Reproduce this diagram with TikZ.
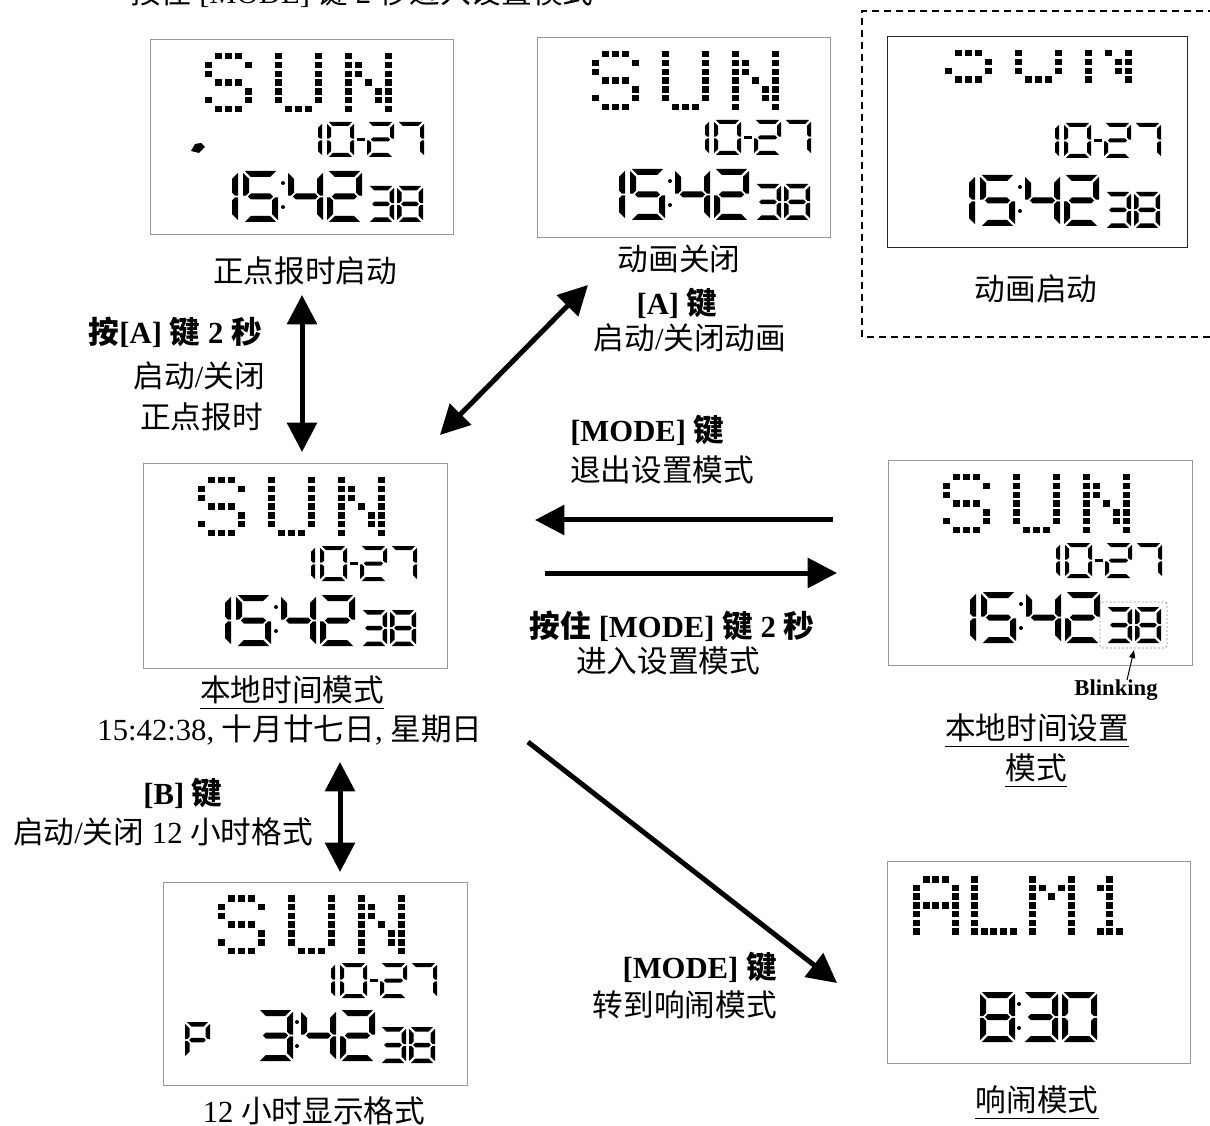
\documentclass[tikz,border=0pt]{standalone}
\usepackage{fontspec}
\setmainfont{Liberation Serif}
\newfontfamily\cjk{Noto Sans CJK SC}
\usetikzlibrary{arrows.meta}
\newcommand{\zh}[1]{{\cjk #1}}

% seven-segment pieces (digit box 0..\dW x 0..\dH, y downward)
\def\dG{1.8}
\newcommand{\sga}{\fill[lcd] (\dG,0) -- ({\dW-\dG},0) -- ({\dW-\dG-\dT},\dT) -- ({\dG+\dT},\dT) -- cycle;}
\newcommand{\sgd}{\fill[lcd] (\dG,\dH) -- ({\dW-\dG},\dH) -- ({\dW-\dG-\dT},{\dH-\dT}) -- ({\dG+\dT},{\dH-\dT}) -- cycle;}
\newcommand{\sgf}{\fill[lcd] (0,\dG) -- (\dT,{\dG+\dT}) -- (\dT,{\dH/2-\dT/2-\dG/2}) -- ({\dT/2},{\dH/2-\dG/2}) -- (0,{\dH/2-\dG/2}) -- cycle;}
\newcommand{\sge}{\fill[lcd] (0,{\dH/2+\dG/2}) -- ({\dT/2},{\dH/2+\dG/2}) -- (\dT,{\dH/2+\dT/2+\dG/2}) -- (\dT,{\dH-\dG-\dT}) -- (0,{\dH-\dG}) -- cycle;}
\newcommand{\sgb}{\fill[lcd] (\dW,\dG) -- ({\dW-\dT},{\dG+\dT}) -- ({\dW-\dT},{\dH/2-\dT/2-\dG/2}) -- ({\dW-\dT/2},{\dH/2-\dG/2}) -- (\dW,{\dH/2-\dG/2}) -- cycle;}
\newcommand{\sgc}{\fill[lcd] (\dW,{\dH/2+\dG/2}) -- ({\dW-\dT/2},{\dH/2+\dG/2}) -- ({\dW-\dT},{\dH/2+\dT/2+\dG/2}) -- ({\dW-\dT},{\dH-\dG-\dT}) -- (\dW,{\dH-\dG}) -- cycle;}
\newcommand{\sgg}{\fill[lcd] ({\dG+\dT/2},{\dH/2}) -- ({\dG+\dT},{\dH/2-\dT/2}) -- ({\dW-\dG-\dT},{\dH/2-\dT/2}) -- ({\dW-\dG-\dT/2},{\dH/2}) -- ({\dW-\dG-\dT},{\dH/2+\dT/2}) -- ({\dG+\dT},{\dH/2+\dT/2}) -- cycle;}
\def\dzero{a,b,c,d,e,f}
\def\done{b,c}
\def\dtwo{a,b,g,e,d}
\def\dthree{a,b,g,c,d}
\def\dfour{f,g,b,c}
\def\dfive{a,f,g,c,d}
\def\dseven{a,b,c}
\def\deight{a,b,c,d,e,f,g}
\def\dP{a,b,f,g,e}
\newcommand{\sdig}[6]{\begin{scope}[shift={({#1},{#2})}]\def\dW{#3}\def\dH{#4}\def\dT{#5}\foreach \s in #6 {\csname sg\s\endcsname}\end{scope}}

% dot matrix letters
\def\mxS{2/1,3/1,4/1,1/2,5/2,1/3,2/4,3/4,4/4,5/5,1/6,5/6,2/7,3/7,4/7}
\def\mxU{1/1,1/2,1/3,1/4,1/5,1/6,5/1,5/2,5/3,5/4,5/5,5/6,2/7,3/7,4/7}
\def\mxN{1/1,1/2,1/3,1/4,1/5,1/6,1/7,5/1,5/2,5/3,5/4,5/5,5/6,5/7,2/2,2/3,3/4,4/5,4/6}
\def\mxA{2/1,3/1,4/1,1/2,1/3,1/4,1/5,1/6,1/7,5/2,5/3,5/4,5/5,5/6,5/7,2/4,3/4,4/4}
\def\mxL{1/1,1/2,1/3,1/4,1/5,1/6,1/7,2/7,3/7,4/7,5/7}
\def\mxM{1/1,1/2,1/3,1/4,1/5,1/6,1/7,5/1,5/2,5/3,5/4,5/5,5/6,5/7,2/2,4/2,3/3}
\def\mxOne{3/1,2/2,3/2,3/3,3/4,3/5,3/6,2/7,3/7,4/7}
\newcommand{\dmchar}[6]{\foreach \c/\r in #3 {\pgfmathtruncatemacro{\rr}{\r-#6}\ifnum\rr>0 \fill[lcd] ({#1+(\c-1)*#4},{#2+(\rr-1)*#5}) rectangle ++(7,6.5);\fi}}
\newcommand{\lcdsun}[3]{\dmchar{#1}{#2}{\mxS}{10}{8.8}{#3}\dmchar{#1+70}{#2}{\mxU}{10}{8.8}{#3}\dmchar{#1+140}{#2}{\mxN}{10}{8.8}{#3}}
\newcommand{\lcdcolon}[3]{\fill[lcd] ({#1},{#2}) circle[radius=2]; \fill[lcd] ({#1},{#3}) circle[radius=2];}
\newcommand{\lcddate}[2]{%
  \sdig{#1+145}{#2+83}{27}{35}{4}{\done}
  \sdig{#1+177}{#2+83}{27}{35}{4}{\dzero}
  \fill[lcd] ({#1+207},{#2+99}) rectangle ({#1+215},{#2+102});
  \sdig{#1+217}{#2+83}{27}{35}{4}{\dtwo}
  \sdig{#1+247}{#2+83}{27}{35}{4}{\dseven}}
\newcommand{\lcdtime}[2]{%
  \sdig{#1+53}{#2+132}{35}{51}{6}{\done}
  \sdig{#1+93}{#2+132}{35}{51}{6}{\dfive}
  \lcdcolon{#1+133}{#2+144}{#2+168}
  \sdig{#1+138}{#2+132}{35}{51}{6}{\dfour}
  \sdig{#1+177}{#2+132}{35}{51}{6}{\dtwo}}
\newcommand{\lcdsecs}[2]{%
  \sdig{#1+218}{#2+147}{26}{36}{4.5}{\dthree}
  \sdig{#1+247}{#2+147}{26}{36}{4.5}{\deight}}
\newcommand{\lcdface}[2]{\lcdsun{#1+55}{#2+14}{0}\lcddate{#1}{#2}\lcdtime{#1}{#2}\lcdsecs{#1}{#2}}

\tikzset{
  lcd/.style={fill=black},
  lcdbox/.style={draw=black!40, line width=1.1pt, inner sep=0pt, anchor=north west},
  lbl/.style={inner sep=0pt, font=\fontsize{23}{27}\selectfont},
  blbl/.style={inner sep=0pt, font=\fontsize{23}{27}\selectfont\bfseries},
  arr/.style={line width=3.75pt, -{Triangle[length=22pt,width=22pt]}},
  darr/.style={line width=3.75pt, {Triangle[length=22pt,width=22pt]}-{Triangle[length=22pt,width=22pt]}},
  uline/.style={line width=1.1pt},
}

\begin{document}
\begin{tikzpicture}[x=0.75pt,y=-0.75pt]
\useasboundingbox (0,0) rectangle (1210,1126);

% ---------- boxes ----------
\node[lcdbox, minimum width=227.25pt, minimum height=146.25pt] (boxA) at (150,39) {};
\node[lcdbox, minimum width=219.75pt, minimum height=150pt] (boxB) at (537,37) {};
\node[lcdbox, draw=black!85, line width=0.8pt, minimum width=225pt, minimum height=158.25pt] (boxC) at (887,36) {};
\node[lcdbox, minimum width=228pt, minimum height=153.75pt] (boxL) at (143,463) {};
\node[lcdbox, minimum width=228pt, minimum height=153.75pt] (boxS) at (888,460) {};
\node[lcdbox, minimum width=228pt, minimum height=152.25pt] (boxH) at (163,882) {};
\node[lcdbox, minimum width=227.25pt, minimum height=151.5pt] (boxM) at (887,861) {};

% dashed frame (open to the right)
\draw[dashed, dash pattern=on 5.25pt off 3.75pt, line width=1.2pt] (1215,11) -- (862,11) -- (862,337) -- (1215,337);

% ---------- LCD contents ----------
\lcdface{150}{39}
\fill[lcd] (191,151) -- (195,144) -- (201,143) -- (205,147) -- (199,153) -- cycle;
\lcdface{537}{37}
% animated frame
\lcdsun{945}{50}{3}
\lcddate{887}{40}
\lcdtime{887}{43}
\lcdsecs{887}{45}
\lcdface{143}{463}
\lcdface{888}{460}
% 12 hour
\lcdsun{218}{895}{0}
\lcddate{163}{880}
\sdig{185}{1022}{25}{36}{4.5}{\dP}
\sdig{258}{1010}{35}{51}{6}{\dthree}
\lcdcolon{297}{1022}{1046}
\sdig{301}{1010}{35}{51}{6}{\dfour}
\sdig{340}{1010}{35}{51}{6}{\dtwo}
\sdig{380}{1027}{26}{36}{4.5}{\dthree}
\sdig{409}{1027}{26}{36}{4.5}{\deight}
% alarm
\dmchar{913}{876}{\mxA}{9.7}{8.7}{0}
\dmchar{971}{876}{\mxL}{9.7}{8.7}{0}
\dmchar{1029}{876}{\mxM}{9.7}{8.7}{0}
\dmchar{1087}{876}{\mxOne}{9.7}{8.7}{0}
\sdig{980}{992}{35}{50}{6}{\deight}
\lcdcolon{1019}{1004}{1028}
\sdig{1023}{992}{35}{50}{6}{\dthree}
\sdig{1062}{992}{35}{50}{6}{\dzero}

% blinking marker
\draw[black!45, line width=0.6pt, dash pattern=on 1.5pt off 1.5pt, rounded corners=2pt] (1100,602) rectangle (1167,648);
\node[inner sep=0pt, font=\fontsize{17}{19}\selectfont\bfseries] (blink) at (1116,690) {Blinking};
\coordinate (bt) at (1127,680);
\coordinate (bh) at (1134,650);
\draw[line width=0.8pt, -{Triangle[length=6pt,width=4.5pt]}] (bt) -- (bh);

% ---------- labels ----------
\node[lbl, anchor=base west] (tTop) at (130,4) {\zh{按住} [MODE] \zh{键} 2 \zh{秒进入设置模式}};
\node[lbl] (lA) at (305,271) {\zh{正点报时启动}};
\node[lbl] (lB1) at (679,259) {\zh{动画关闭}};
\node[blbl] (lB2) at (677,303) {[A] \zh{键}};
\node[lbl] (lB3) at (690,338) {\zh{启动}/\zh{关闭动画}};
\node[lbl] (lC) at (1036,289) {\zh{动画启动}};
\node[blbl, anchor=east] (lK1) at (262,332) {\zh{按}[A] \zh{键} 2 \zh{秒}};
\node[lbl, anchor=east] (lK2) at (265,376) {\zh{启动}/\zh{关闭}};
\node[lbl, anchor=east] (lK3) at (263,417) {\zh{正点报时}};
\node[lbl] (lL1) at (292,690) {\zh{本地时间模式}};
\draw[uline] ([yshift=-3pt]lL1.south west) -- ([yshift=-3pt]lL1.south east);
\node[lbl] (lL2) at (290,730) {15:42:38, \zh{十月廿七日}, \zh{星期日}};
\node[blbl, anchor=west] (lM1) at (570,430) {[MODE] \zh{键}};
\node[lbl, anchor=west] (lM2) at (570,470) {\zh{退出设置模式}};
\node[blbl] (lM3) at (672,626) {\zh{按住} [MODE] \zh{键} 2 \zh{秒}};
\node[lbl] (lM4) at (668,661) {\zh{进入设置模式}};
\node[lbl] (lS1) at (1037,728) {\zh{本地时间设置}};
\draw[uline] ([yshift=-3pt]lS1.south west) -- ([yshift=-3pt]lS1.south east);
\node[lbl] (lS2) at (1036,768) {\zh{模式}};
\draw[uline] ([yshift=-3pt]lS2.south west) -- ([yshift=-3pt]lS2.south east);
\node[blbl] (lH1) at (183,793) {[B] \zh{键}};
\node[lbl] (lH2) at (163,832) {\zh{启动}/\zh{关闭} 12 \zh{小时格式}};
\node[lbl] (lH3) at (314,1111) {12 \zh{小时显示格式}};
\node[blbl, anchor=east] (lR1) at (777,967) {[MODE] \zh{键}};
\node[lbl, anchor=east] (lR2) at (777,1005) {\zh{转到响闹模式}};
\node[lbl] (lR3) at (1037,1100) {\zh{响闹模式}};
\draw[uline] ([yshift=-3pt]lR3.south west) -- ([yshift=-3pt]lR3.south east);

% ---------- connectors ----------
\coordinate (a1s) at (302,295); \coordinate (a1e) at (302,452);
\coordinate (a2s) at (440,435); \coordinate (a2e) at (588,285);
\coordinate (a3s) at (833,520); \coordinate (a3e) at (535,520);
\coordinate (a4s) at (545,573); \coordinate (a4e) at (837,573);
\coordinate (a5s) at (340,762); \coordinate (a5e) at (340,872);
\coordinate (a6s) at (528,742); \coordinate (a6e) at (837,983);
\draw[darr] (a1s) -- (a1e);
\draw[darr] (a2s) -- (a2e);
\draw[arr] (a3s) -- (a3e);
\draw[arr] (a4s) -- (a4e);
\draw[darr] (a5s) -- (a5e);
\draw[arr] (a6s) -- (a6e);
\end{tikzpicture}
\end{document}
